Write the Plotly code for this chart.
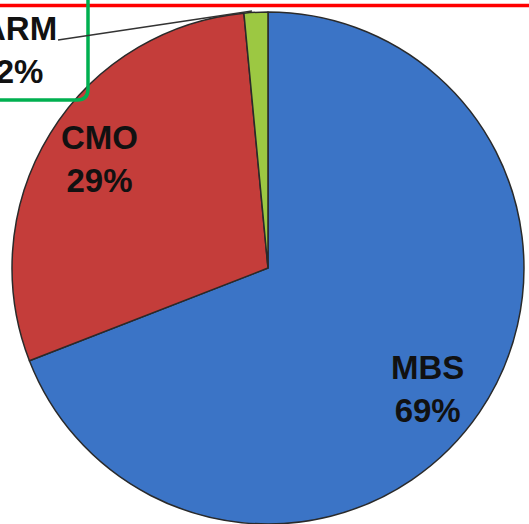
import plotly.graph_objects as go

labels = ["MBS", "CMO", "ARM"]
values = [69.1, 29.4, 1.5]
pct_text = ["69%", "29%", "2%"]
colors = ["#3b74c6", "#c43d3a", "#9cc842"]

# label positions (paper coords)
label_x = [0.809, 0.189, 0.036]
label_y = [0.257, 0.697, 0.905]

W, H = 529, 524

fig = go.Figure()
fig.add_trace(go.Pie(
    labels=labels, values=values, sort=False, direction="clockwise", rotation=0,
    marker=dict(colors=colors, line=dict(color="#2a2a2a", width=1.5)),
    textinfo="none", hoverinfo="label+percent", showlegend=False,
    domain=dict(x=[0.0132, 1.0], y=[0.0, 0.977]),
))

for lab, pt, x, y in zip(labels, pct_text, label_x, label_y):
    fig.add_annotation(x=x, y=y, xref="paper", yref="paper", text=f"<b>{lab}<br>{pt}</b>",
                       showarrow=False, xanchor="center", yanchor="middle",
                       font=dict(family="Liberation Sans, Arial", size=33, color="#111111"))

def px(xp):
    return xp / W

def py(yp):
    return 1 - yp / H

# red top rule
fig.add_shape(type="line", xref="paper", yref="paper", x0=0, x1=1, y0=py(5.5), y1=py(5.5),
              line=dict(color="#ff0000", width=3.5))
# green rounded callout box
r = 11
xr, yb = 88, 100
path = (f"M {px(-20)},{py(-20)} L {px(xr)},{py(-20)} L {px(xr)},{py(yb - r)} "
        f"Q {px(xr)},{py(yb)} {px(xr - r)},{py(yb)} L {px(-20)},{py(yb)}")
fig.add_shape(type="path", xref="paper", yref="paper", path=path,
              line=dict(color="#00b050", width=3.5))
# leader line
fig.add_shape(type="line", xref="paper", yref="paper", x0=px(58), y0=py(40), x1=px(252), y1=py(11),
              line=dict(color="#333333", width=1.5))

fig.update_layout(width=W, height=H, margin=dict(l=0, r=0, t=0, b=0),
                  paper_bgcolor="white", plot_bgcolor="white")
fig.write_html("out.html")
